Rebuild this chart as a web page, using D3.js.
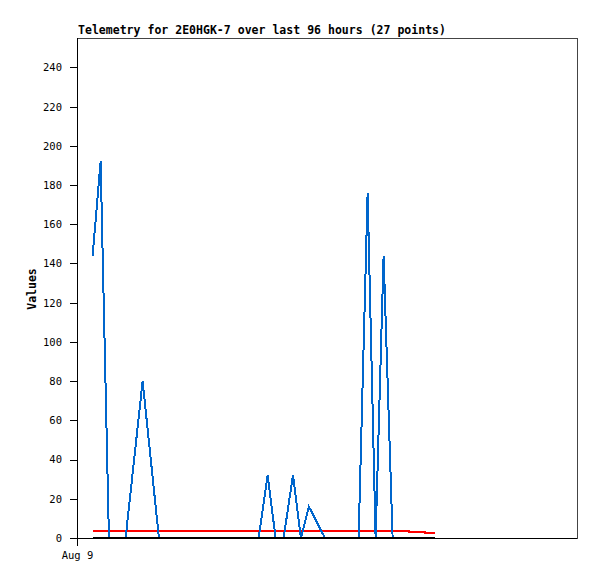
<!DOCTYPE html>
<html><head><meta charset="utf-8">
<script src="https://cdn.jsdelivr.net/npm/d3@7"></script>
<style>
html,body{margin:0;padding:0;background:#fff;}
svg{display:block;}
text{font-family:"DejaVu Sans Mono","Liberation Mono",monospace;}
</style></head>
<body>
<script>
const title = "Telemetry for 2E0HGK-7 over last 96 hours (27 points)";
const yLabel = "Values";
const xTickDates = ["2024-08-09T00:00"];
const times = ["00:45","01:08","01:32","01:56","02:20","03:09","03:56","05:25","07:06","08:43",
  "09:09","09:32","09:55","10:22","10:45","11:08","11:54","12:43","13:31","13:57",
  "14:20","14:43","15:09","15:33","15:56","16:42","17:11"];
const blueValues = [144,192,0,0,0,80,0,0,0,0,
  32,0,0,32,0,16,0,0,0,176,
  0,144,0,0,0,0,0];
const redValues = [3.75,3.75,3.75,3.75,3.75,3.75,3.75,3.75,3.75,3.75,
  3.75,3.75,3.75,3.75,3.75,3.75,3.75,3.75,3.75,3.75,
  3.75,3.75,3.75,3.75,3.1,2.6,2.6];
const blackValues = times.map(() => 0);
const yTicks = [0,20,40,60,80,100,120,140,160,180,200,220,240];
const yMax = 255;
const xDomain = ["2024-08-09T00:00","2024-08-10T00:00"];

const W = 597, H = 579;
const m = {left:77, right:20, top:38, bottom:41};
const pw = W - m.left - m.right, ph = H - m.top - m.bottom;
const parse = d3.isoParse;
const dates = times.map(t => parse("2024-08-09T" + t));

const svg = d3.select("body").append("svg").attr("width", W).attr("height", H);
const x = d3.scaleTime().domain(xDomain.map(parse)).range([m.left, m.left + pw]);
const y = d3.scaleLinear().domain([0, yMax]).range([m.top + ph, m.top]);

svg.append("rect").attr("x", m.left + 0.5).attr("y", m.top + 0.5)
  .attr("width", pw).attr("height", ph)
  .attr("fill", "none").attr("stroke", "#444").attr("shape-rendering","crispEdges");

svg.append("text").attr("x", m.left + 1).attr("y", 34)
  .attr("font-size", "11.5px").attr("font-weight", "bold")
  .attr("textLength", 368).attr("lengthAdjust", "spacing").text(title);

const yAxis = svg.append("g").attr("transform", `translate(${m.left},0)`)
  .call(d3.axisLeft(y).tickValues(yTicks).tickSize(7).tickPadding(8).tickFormat(d3.format("d")));
yAxis.selectAll("text").attr("font-size", "10.5px").attr("font-family", "DejaVu Sans Mono, monospace").attr("fill","#000");
yAxis.selectAll("line,path").attr("stroke", "#000").attr("shape-rendering","crispEdges");
yAxis.select(".domain").attr("d", `M0.5,${m.top}V${m.top+ph}`);

const xAxis = svg.append("g").attr("transform", `translate(0,${m.top + ph})`)
  .call(d3.axisBottom(x).tickValues(xTickDates.map(parse)).tickSize(8).tickPadding(6).tickFormat(d3.timeFormat("%b %-d")));
xAxis.selectAll("text").attr("font-size", "10.5px").attr("font-family", "DejaVu Sans Mono, monospace").attr("fill","#000");
xAxis.selectAll("line,path").attr("stroke", "#000").attr("shape-rendering","crispEdges");
xAxis.select(".domain").attr("d", `M${m.left},0.5H${m.left+pw}`);

svg.append("text").attr("transform", `translate(36,${m.top + ph/2 + 1}) rotate(-90)`)
  .attr("font-size", "11.5px").attr("font-weight", "bold").attr("text-anchor","middle").text(yLabel);

function draw(vals, color, curve) {
  const line = d3.line().x((d,i) => x(dates[i])).y(d => y(d)).curve(curve);
  svg.append("path").datum(vals).attr("d", line)
    .attr("fill", "none").attr("stroke", color).attr("stroke-width", 2)
    .attr("shape-rendering", "crispEdges");
}
draw(redValues, "#ff0000", d3.curveStepAfter);
draw(blueValues, "#0066cc", d3.curveLinear);
draw(blackValues, "#000000", d3.curveLinear);
</script>
</body></html>
